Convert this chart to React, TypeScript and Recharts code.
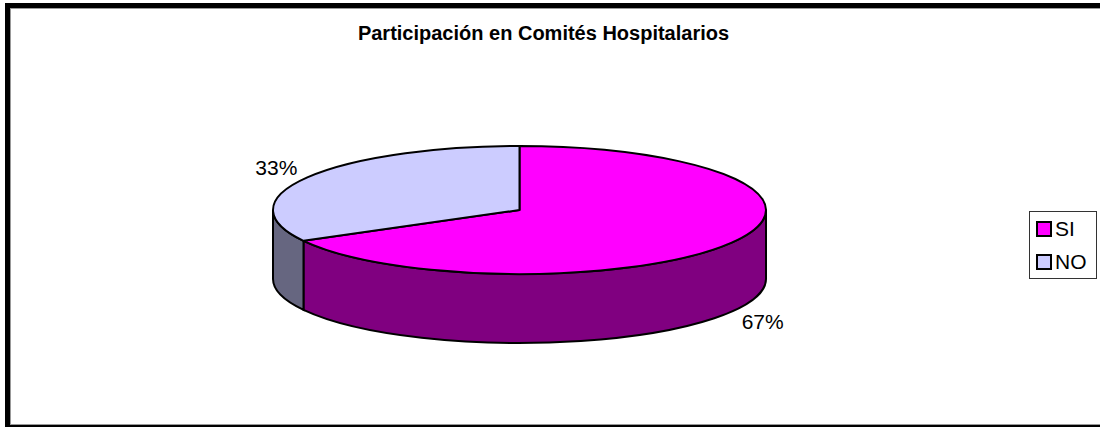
import { PieChart, Pie, Legend } from "recharts";

const CATEGORIES = ["SI", "NO"];
const SHARES = [67, 33];
const TOP_COLORS = ["#FF00FF", "#CCCCFF"];
const WALL_COLORS = ["#800080", "#666680"];

const pieData = CATEGORIES.map((name, i) => ({
  name,
  value: SHARES[i],
  fill: TOP_COLORS[i],
  wall: WALL_COLORS[i],
}));

const FONT = "'Liberation Sans', Arial, sans-serif";
const SQUASH = 64 / 246.5;
const DEPTH = 69;
const RAD = Math.PI / 180;

const ellipsePoint = (cx: number, cy: number, r: number, deg: number) => ({
  x: cx + r * Math.cos(deg * RAD),
  y: cy - r * SQUASH * Math.sin(deg * RAD),
});

// recharts gives us the circular sector, we tilt it and add the side wall
function TiltedSlice(props: any) {
  const { cx, cy, outerRadius: r, startAngle, endAngle, fill, wall } = props;
  const ry = r * SQUASH;
  const a = ellipsePoint(cx, cy, r, startAngle);
  const b = ellipsePoint(cx, cy, r, endAngle);
  const large = Math.abs(startAngle - endAngle) > 180 ? 1 : 0;
  const top = `M${cx},${cy} L${a.x},${a.y} A${r},${ry} 0 ${large} 1 ${b.x},${b.y} Z`;

  // only the part of the rim on the lower half of the ellipse is visible
  const from = Math.min(startAngle, 0);
  const to = Math.max(endAngle, -180);
  let side = null;
  if (from > to) {
    const p = ellipsePoint(cx, cy, r, from);
    const q = ellipsePoint(cx, cy, r, to);
    const d = `M${p.x},${p.y} A${r},${ry} 0 0 1 ${q.x},${q.y} L${q.x},${q.y + DEPTH} A${r},${ry} 0 0 0 ${p.x},${p.y + DEPTH} Z`;
    side = <path d={d} fill={wall} stroke="#000" strokeWidth={2} />;
  }
  return (
    <g>
      {side}
      <path d={top} fill={fill} stroke="#000" strokeWidth={2} strokeLinejoin="round" />
    </g>
  );
}

function PercentLabel(props: any) {
  const { cx, cy, outerRadius, midAngle, percent } = props;
  const p = ellipsePoint(cx, cy, outerRadius, midAngle);
  const lower = Math.sin(midAngle * RAD) < 0;
  const x = p.x + 36 * Math.cos(midAngle * RAD);
  const y = p.y - 20 * Math.sin(midAngle * RAD) + (lower ? DEPTH : 0);
  return (
    <text x={x} y={y} textAnchor="middle" dominantBaseline="central" fontFamily={FONT} fontSize={21} fill="#000">
      {Math.round(percent * 100)}%
    </text>
  );
}

function LegendBox({ payload }: any) {
  return (
    <div
      style={{
        boxSizing: "border-box",
        width: 68,
        height: 68,
        border: "1px solid #333",
        background: "#fff",
        paddingTop: 0,
        paddingLeft: 6,
        fontFamily: FONT,
        fontSize: 21,
        color: "#000",
      }}
    >
      {(payload || []).map((entry: any) => (
        <div key={entry.value} style={{ display: "flex", alignItems: "center", height: 33, marginTop: 0, lineHeight: "20px" }}>
          <span
            style={{
              boxSizing: "border-box",
              width: 16,
              height: 16,
              marginRight: 3,
              border: "2px solid #000",
              background: entry.color,
            }}
          />
          {entry.value}
        </div>
      ))}
    </div>
  );
}

export default function App() {
  return (
    <div style={{ position: "fixed", left: 0, top: 0, width: 1100, height: 427, background: "#fff", overflow: "hidden" }}>
      <div
        style={{
          position: "absolute",
          left: 5,
          top: 3,
          right: -10,
          bottom: 0,
          borderLeft: "5px solid #000",
          borderTop: "5px solid #000",
          borderBottom: "2px solid #000",
          boxSizing: "border-box",
        }}
      >
        <div style={{ position: "absolute", inset: 0, borderLeft: "1px solid #999", borderTop: "1px solid #999", borderBottom: "1px solid #999" }} />
      </div>
      <PieChart width={1100} height={427} margin={{ top: 0, right: 0, bottom: 0, left: 0 }}>
        <text x={543.5} y={40} textAnchor="middle" fontFamily={FONT} fontSize={20} fontWeight="bold" fill="#000">
          Participación en Comités Hospitalarios
        </text>
        <Pie
          data={pieData}
          dataKey="value"
          nameKey="name"
          cx={519.5}
          cy={210}
          outerRadius={246.5}
          startAngle={90}
          endAngle={-270}
          stroke="#000"
          shape={TiltedSlice}
          label={PercentLabel}
          labelLine={false}
          isAnimationActive={false}
        />
        <Legend
          content={<LegendBox />}
          layout="vertical"
          itemSorter={null}
          wrapperStyle={{ position: "absolute", left: 1029, top: 211, width: 68, height: 68 }}
        />
      </PieChart>
    </div>
  );
}
